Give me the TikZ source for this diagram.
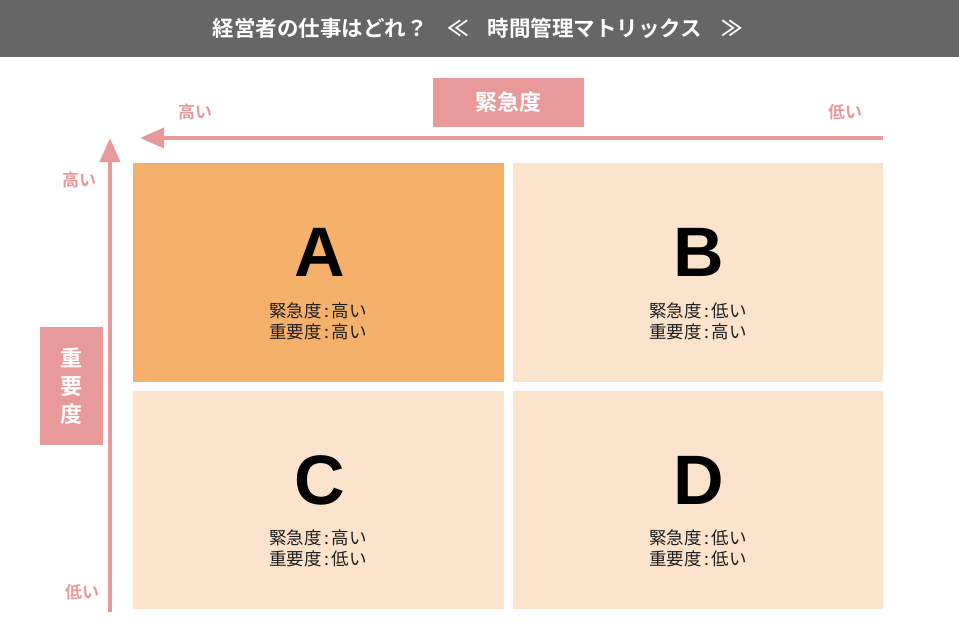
\documentclass[tikz,border=0pt]{standalone}
\usepackage{fontspec}
\setmainfont{Liberation Sans}
\newfontfamily\jp{Noto Sans CJK JP}
\newfontfamily\jpb{Noto Sans CJK JP Bold}
\usetikzlibrary{arrows.meta}
\definecolor{titlebg}{HTML}{666666}
\definecolor{pinkc}{HTML}{E8999A}
\definecolor{quadA}{HTML}{F5B06A}
\definecolor{quadL}{HTML}{FCE3CB}
\definecolor{txt}{HTML}{1E1E1E}
\newcommand{\qc}{\hspace{0.15em}:\hspace{0.15em}}
\tikzset{
  quad/.style={inner sep=0pt, anchor=north west},
  bigletter/.style={font=\fontsize{70}{70}\selectfont\bfseries, text=black},
  qlabel/.style={font=\jp\fontsize{17.5}{21}\selectfont, text=txt, align=center},
  axislbl/.style={font=\jpb\fontsize{17}{17}\selectfont, text=pinkc},
  axisarrow/.style={draw=pinkc, line width=4pt, -{Triangle[length=24pt,width=20pt]}},
  axisbox/.style={fill=pinkc, text=white, font=\jpb\fontsize{22}{24}\selectfont, inner sep=0pt}
}
\begin{document}
\begin{tikzpicture}[x=1pt,y=-1pt]
\useasboundingbox (0,0) rectangle (959,629);
\fill[white] (0,0) rectangle (959,629);
% title bar
\fill[titlebg] (0,0) rectangle (959,57);
\node[font=\jpb\fontsize{21.5}{22}\selectfont, text=white] (title) at (478,28) {経営者の仕事はどれ？\hspace{0.9em}≪\hspace{0.9em}時間管理マトリックス\hspace{0.9em}≫};
% urgency axis
\node[axisbox, minimum width=151pt, minimum height=49pt] (urg) at (508,102.5) {緊急度};
\node[axislbl] (uhigh) at (195,112) {高い};
\node[axislbl] (ulow) at (845,112) {低い};
\coordinate (uend) at (883,138);
\coordinate (utip) at (140,138);
\draw[axisarrow] (uend) -- (utip);
% importance axis
\node[axisbox, minimum width=63pt, minimum height=118pt, align=center, font=\jpb\fontsize{22}{28}\selectfont] (imp) at (71.5,386) {重\\要\\度};
\node[axislbl] (ihigh) at (79,180) {高い};
\node[axislbl] (ilow) at (82,592) {低い};
\coordinate (iend) at (110,612);
\coordinate (itip) at (110,138);
\draw[axisarrow] (iend) -- (itip);
% quadrants
\node[quad, fill=quadA, minimum width=371pt, minimum height=219pt] (A) at (133,163) {};
\node[quad, fill=quadL, minimum width=370pt, minimum height=219pt] (B) at (513,163) {};
\node[quad, fill=quadL, minimum width=371pt, minimum height=218pt] (C) at (133,391) {};
\node[quad, fill=quadL, minimum width=370pt, minimum height=218pt] (D) at (513,391) {};
\node[bigletter] (la) at (320,252) {A};
\node[bigletter] (lb) at (699,252) {B};
\node[bigletter] (lc) at (320,480) {C};
\node[bigletter] (ld) at (699,480) {D};
\node[qlabel] (ta) at (318,321) {緊急度\qc 高い\\重要度\qc 高い};
\node[qlabel] (tb) at (698,321) {緊急度\qc 低い\\重要度\qc 高い};
\node[qlabel] (tc) at (318,548) {緊急度\qc 高い\\重要度\qc 低い};
\node[qlabel] (td) at (698,548) {緊急度\qc 低い\\重要度\qc 低い};
\end{tikzpicture}
\end{document}
